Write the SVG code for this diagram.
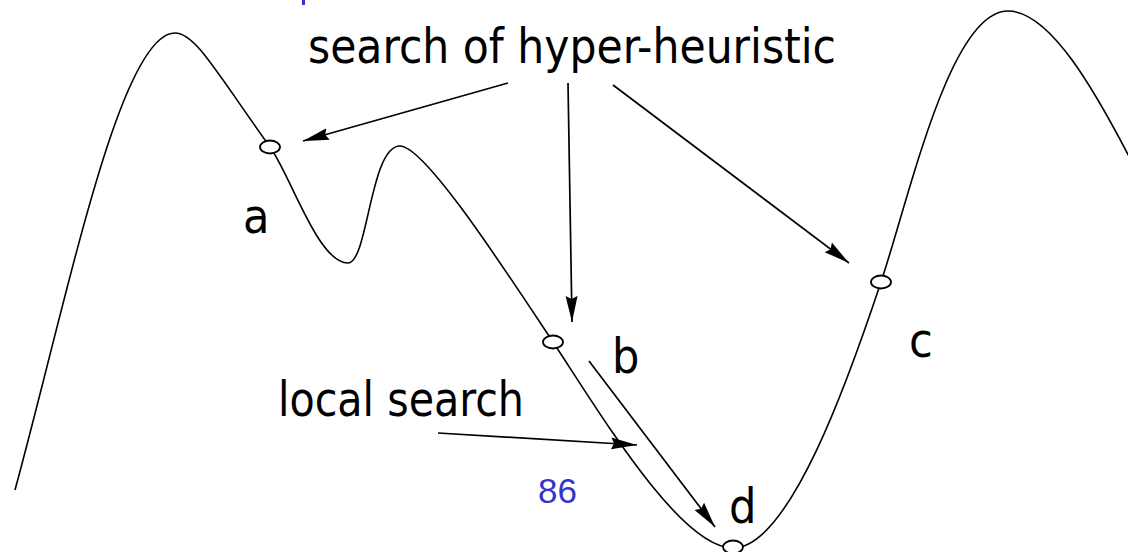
<svg xmlns="http://www.w3.org/2000/svg" width="1128" height="552" viewBox="0 0 1128 552">
<style>
.curve{fill:none;stroke:#000;stroke-width:1.6}
.pt{fill:#fff;stroke:#000;stroke-width:1.8}
.arr{fill:none;stroke:#000;stroke-width:1.7;marker-end:url(#ah)}
.lbl{font-family:"DejaVu Sans Condensed","DejaVu Sans",sans-serif;font-stretch:condensed;font-size:48px;fill:#000}
.num{font-family:"Liberation Sans",Arial,sans-serif;font-size:35px;fill:#3535c8}
</style>
<defs>
<marker id="ah" markerUnits="userSpaceOnUse" markerWidth="28" markerHeight="14" refX="26" refY="7" orient="auto">
<path d="M0,1 L26,7 L0,13 L3,7 z" fill="#000"/>
</marker>
</defs>
<rect x="302" y="0" width="3" height="5" fill="#3535c8"/>
<g id="landscape">
<path class="curve" d="M15,490 C68,295 120,33 175,33 C195,33 215,70 270,147 C291,176 318,263 348,263 C368,263 370,146 400,146 C425,146 505,270 553,342 C600,413 680,548 733,548 C790,548 850,375 881,282 C910,195 950,11 1008,11 C1050,11 1095,90 1135,168"/>
</g>
<g id="connectors">
<line class="arr" x1="508" y1="83" x2="303" y2="141"/>
<line class="arr" x1="568" y1="83" x2="572" y2="322"/>
<line class="arr" x1="613" y1="85" x2="849" y2="263"/>
<line class="arr" x1="438" y1="433" x2="637" y2="445"/>
<line class="arr" x1="589" y1="361" x2="715" y2="527"/>
</g>
<g id="node-a"><ellipse class="pt" cx="270" cy="147" rx="10" ry="6.5"/><text class="lbl" x="243" y="233">a</text></g>
<g id="node-b"><ellipse class="pt" cx="553" cy="342" rx="10" ry="6.5"/><text class="lbl" x="612" y="373">b</text></g>
<g id="node-c"><ellipse class="pt" cx="881" cy="282" rx="10" ry="6.5"/><text class="lbl" x="909" y="357">c</text></g>
<g id="node-d"><ellipse class="pt" cx="733" cy="547" rx="10" ry="6.5"/><text class="lbl" x="729" y="523">d</text></g>
<g id="title"><text class="lbl" x="308" y="63" textLength="528" lengthAdjust="spacingAndGlyphs">search of hyper-heuristic</text></g>
<g id="local"><text class="lbl" x="278" y="416" textLength="246" lengthAdjust="spacingAndGlyphs">local search</text></g>
<g id="page"><text class="num" x="538" y="503">86</text></g>
</svg>
